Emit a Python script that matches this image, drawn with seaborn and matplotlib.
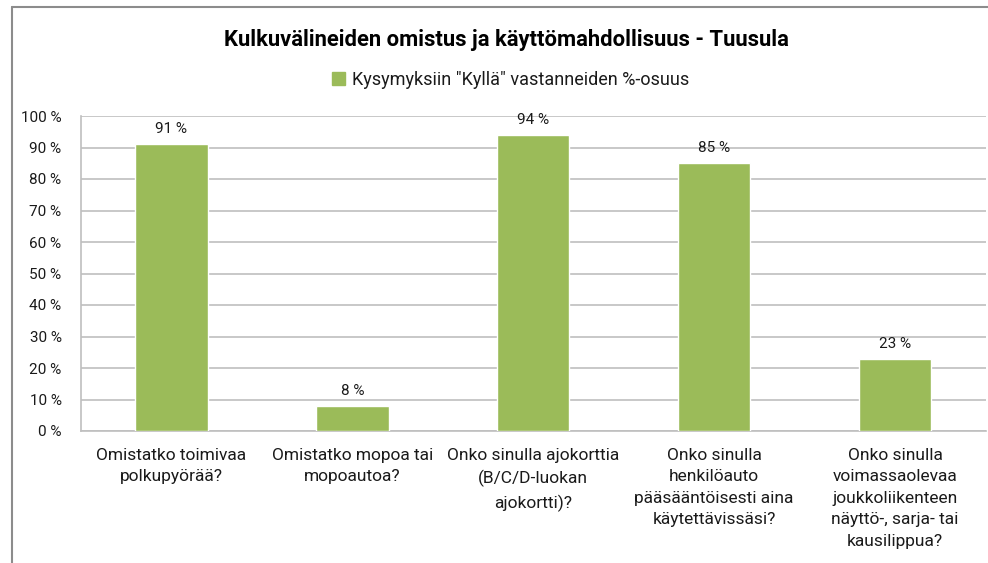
import matplotlib
matplotlib.use("Agg")
import matplotlib.pyplot as plt
from matplotlib.lines import Line2D
import pandas as pd
import seaborn as sns

# data
questions = [
    "Omistatko toimivaa\npolkupyörää?",
    "Omistatko mopoa tai\nmopoautoa?",
    "Onko sinulla ajokorttia\n(B/C/D-luokan\najokortti)?",
    "Onko sinulla\nhenkilöauto\npääsääntöisesti aina\nkäytettävissäsi?",
    "Onko sinulla\nvoimassaolevaa\njoukkoliikenteen\nnäyttö-, sarja- tai\nkausilippua?",
]
yes_share = [91, 8, 94, 85, 23]
y_ticks = list(range(0, 101, 10))
series_name = 'Kysymyksiin "Kyllä" vastanneiden %-osuus'
title = "Kulkuvälineiden omistus ja käyttömahdollisuus - Tuusula"

bar_color = "#9BBB59"
grid_color = "#BFBFBF"
text_color = "#1A1A1A"

sns.set_theme(style="white")
plt.rcParams['font.family'] = ['Roboto', 'DejaVu Sans']

df = pd.DataFrame({"question": questions, "share": yes_share})

fig = plt.figure(figsize=(9.88, 5.63), dpi=100)
ax = fig.add_axes([81 / 988, 132 / 563, 904.5 / 988, 315 / 563])

sns.barplot(data=df, x="question", y="share", color=bar_color,
            width=0.40, saturation=1, ax=ax, zorder=3)

ax.set_ylim(0, 100)
ax.set_yticks(y_ticks)
ax.set_yticklabels([f"{t} %" for t in y_ticks], fontsize=11, color=text_color)
ax.set_xticks(range(len(questions)))
ax.set_xticklabels(questions, fontsize=12.5, color=text_color, linespacing=1.55)
ax.tick_params(axis='x', length=0, pad=12)
ax.tick_params(axis='y', length=0, pad=14)
ax.set_xlabel("")
ax.set_ylabel("")
ax.yaxis.grid(True, color=grid_color, linewidth=1.2, zorder=0)
ax.set_axisbelow(True)

for side in ["top", "right"]:
    ax.spines[side].set_visible(False)
for side in ["left", "bottom"]:
    ax.spines[side].set_color(grid_color)
    ax.spines[side].set_linewidth(1.2)

# value labels above bars
for bar, val in zip(ax.patches, yes_share):
    ax.text(bar.get_x() + bar.get_width() / 2, bar.get_height() + 2.5,
            f"{val} %", ha='center', va='bottom', fontsize=11, color=text_color)

fig.text(0.513, 1 - 40 / 563, title, ha='center', va='center',
         fontsize=15.8, fontweight='bold', color="black")

# legend
handle = plt.Rectangle((0, 0), 1, 1, color=bar_color)
fig.legend([handle], [series_name], loc='center', bbox_to_anchor=(0.517, 1 - 80 / 563),
           frameon=False, fontsize=13, handlelength=0.7, handleheight=0.7,
           handletextpad=0.4, labelcolor=text_color)

# chart frame (Excel style), cut at right and bottom
fig.add_artist(Line2D([12 / 988, 1], [1 - 7 / 563, 1 - 7 / 563],
                      transform=fig.transFigure, color="#8C8C8C", linewidth=1.5))
fig.add_artist(Line2D([12 / 988, 12 / 988], [0, 1 - 7 / 563],
                      transform=fig.transFigure, color="#8C8C8C", linewidth=1.5))

fig.savefig("out.png", dpi=100)
